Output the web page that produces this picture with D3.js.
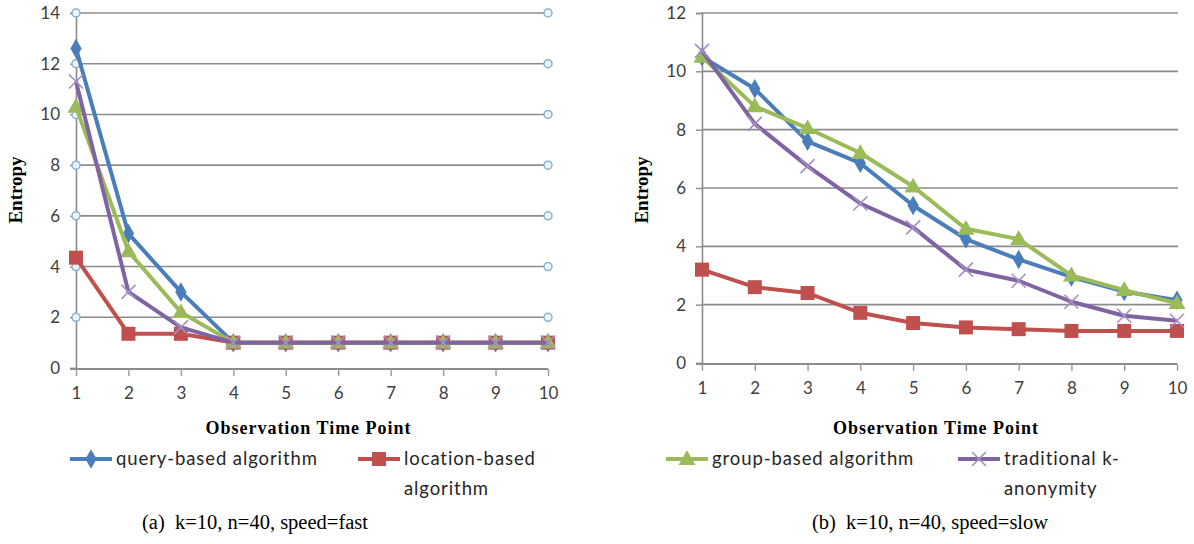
<!DOCTYPE html>
<html>
<head>
<meta charset="utf-8">
<script src="https://cdn.jsdelivr.net/npm/d3@7"></script>
<style>
  body { margin: 0; background: #fff; }
  .tick text { font-family: Lato, "Open Sans", sans-serif; font-size: 17px; fill: #404040; }
</style>
</head>
<body>
<div id="chart"></div>
<script>
// categories / ticks
var timePoints = [1, 2, 3, 4, 5, 6, 7, 8, 9, 10];
var yTicksFast = [0, 2, 4, 6, 8, 10, 12, 14];
var yTicksSlow = [0, 2, 4, 6, 8, 10, 12];
var seriesNames = ["query-based algorithm", "location-based algorithm", "group-based algorithm", "traditional k-anonymity"];

// (a) speed = fast
var fastQuery       = [12.6, 5.3, 3.0, 1.0, 1.0, 1.0, 1.0, 1.0, 1.0, 1.0];
var fastLocation    = [4.35, 1.35, 1.35, 1.0, 1.0, 1.0, 1.0, 1.0, 1.0, 1.0];
var fastGroup       = [10.3, 4.6, 2.2, 1.0, 1.0, 1.0, 1.0, 1.0, 1.0, 1.0];
var fastTraditional = [11.3, 3.0, 1.6, 1.0, 1.0, 1.0, 1.0, 1.0, 1.0, 1.0];

// (b) speed = slow
var slowQuery       = [10.5, 9.4, 7.6, 6.85, 5.4, 4.25, 3.55, 2.95, 2.45, 2.15];
var slowLocation    = [3.2, 2.6, 2.4, 1.72, 1.37, 1.22, 1.16, 1.1, 1.1, 1.1];
var slowGroup       = [10.5, 8.8, 8.05, 7.2, 6.05, 4.6, 4.25, 3.0, 2.5, 2.05];
var slowTraditional = [10.7, 8.2, 6.75, 5.47, 4.65, 3.2, 2.82, 2.1, 1.62, 1.45];

var colors = ["#4a7ebb", "#c0504d", "#9bbb59", "#8064a2"];
var markers = ["diamond", "square", "triangle", "cross"];

var svgWidth = 1194;
var svgHeight = 544;

var svg = d3.select("#chart")
  .append("svg")
  .attr("width", svgWidth)
  .attr("height", svgHeight);

function drawMarker(g, type, x, y, color) {
  if (type == "diamond") {
    g.append("path").attr("d", d3.symbol(d3.symbolDiamond, 110)())
      .attr("transform", `translate(${x},${y})`).attr("fill", color);
  } else if (type == "square") {
    g.append("rect").attr("x", x - 7).attr("y", y - 7)
      .attr("width", 14).attr("height", 14).attr("fill", color);
  } else if (type == "triangle") {
    g.append("path").attr("d", d3.symbol(d3.symbolTriangle, 125)())
      .attr("transform", `translate(${x},${y + 1})`).attr("fill", color);
  } else {
    g.append("path").attr("d", `M${x-7},${y-7}L${x+7},${y+7}M${x-7},${y+7}L${x+7},${y-7}`)
      .attr("stroke", "#a48fc4").attr("stroke-width", 1.6).attr("fill", "none");
  }
}

function drawPanel(p) {
  var x = d3.scaleLinear().domain([1, 10]).range([p.left, p.right]);
  var y = d3.scaleLinear().domain([0, d3.max(p.yTicks)]).range([p.bottom, p.top]);
  var g = svg.append("g");

  // gridlines
  g.selectAll(".grid").data(p.yTicks.filter(d => d > 0)).enter()
    .append("line")
    .attr("x1", p.left).attr("x2", p.gridEnd)
    .attr("y1", d => y(d)).attr("y2", d => y(d))
    .attr("stroke", "#8c8c8c").attr("stroke-width", 1.6);

  // y axis
  var yAxis = d3.axisLeft(y).tickValues(p.yTicks).tickSize(6).tickPadding(10);
  var yg = g.append("g").attr("transform", `translate(${p.left},0)`).call(yAxis);
  yg.select(".domain").attr("stroke", "#8c8c8c").attr("stroke-width", 1.6);
  yg.selectAll(".tick line").attr("stroke", "#8c8c8c").attr("stroke-width", 1.4);

  // x axis
  var xAxis = d3.axisBottom(x).tickValues(timePoints).tickSize(7).tickPadding(11);
  var xg = g.append("g").attr("transform", `translate(0,${y(0) + 1})`).call(xAxis);
  xg.select(".domain").attr("d", `M${p.left - 6},0H${p.right}`)
    .attr("stroke", "#8c8c8c").attr("stroke-width", 2);
  xg.selectAll(".tick line").attr("stroke", "#9a9a9a").attr("stroke-width", 1.4);

  // circles at grid ends (panel a)
  if (p.endCircles) {
    p.yTicks.filter(d => d > 0).forEach(function(v) {
      [p.left, p.right].forEach(function(cx) {
        g.append("circle").attr("cx", cx).attr("cy", y(v)).attr("r", 4)
          .attr("fill", "#eef5fa").attr("stroke", "#86b2cf").attr("stroke-width", 1.5);
      });
    });
  }

  // series
  var line = d3.line().x((d, i) => x(timePoints[i])).y(d => y(d));
  p.series.forEach(function(vals, si) {
    g.append("path").datum(vals)
      .attr("d", line)
      .attr("fill", "none")
      .attr("stroke", colors[si])
      .attr("stroke-width", 4)
      .attr("stroke-linejoin", "round");
    vals.forEach(function(v, i) {
      drawMarker(g, markers[si], x(timePoints[i]), y(v), colors[si]);
    });
  });

  // axis titles
  g.append("text")
    .attr("transform", `translate(${p.yTitleX},${p.yTitleY}) rotate(-90)`)
    .attr("text-anchor", "middle")
    .style("font-family", "'Liberation Serif', serif")
    .style("font-weight", "bold")
    .style("font-size", "19px")
    .text("Entropy");

  g.append("text")
    .attr("x", (p.left + p.right) / 2 - 4)
    .attr("y", 434)
    .attr("text-anchor", "middle")
    .style("font-family", "'Liberation Serif', serif")
    .style("font-weight", "bold")
    .style("font-size", "18px")
    .attr("textLength", 205)
    .text("Observation Time Point");

  // legend
  p.legend.forEach(function(item) {
    var lg = g.append("g");
    lg.append("line")
      .attr("x1", item.x).attr("x2", item.x + 42)
      .attr("y1", 459).attr("y2", 459)
      .attr("stroke", colors[item.s]).attr("stroke-width", 4);
    drawMarker(lg, markers[item.s], item.x + 21, 459, colors[item.s]);
    item.lines.forEach(function(t, li) {
      lg.append("text")
        .attr("x", item.x + 46)
        .attr("y", 465 + li * 30)
        .style("font-family", "Lato, 'Open Sans', sans-serif")
        .style("font-size", "18.5px")
        .style("letter-spacing", "0.9px")
        .style("fill", "#262626")
        .text(t);
    });
  });

  // caption
  g.append("text")
    .attr("x", p.captionX)
    .attr("y", 529)
    .attr("text-anchor", "middle")
    .style("font-family", "'Liberation Serif', serif")
    .style("font-size", "20.5px")
    .attr("xml:space", "preserve")
    .text(p.caption);
}

drawPanel({
  left: 76, right: 548, gridEnd: 548, top: 13, bottom: 368,
  yTicks: yTicksFast, endCircles: true,
  series: [fastQuery, fastLocation, fastGroup, fastTraditional],
  yTitleX: 22, yTitleY: 190,
  legend: [
    { s: 0, x: 70, lines: ["query-based algorithm"] },
    { s: 1, x: 358, lines: ["location-based", "algorithm"] }
  ],
  captionX: 255, caption: "(a)  k=10, n=40, speed=fast"
});

drawPanel({
  left: 702, right: 1177, gridEnd: 1178, top: 13, bottom: 363,
  yTicks: yTicksSlow, endCircles: false,
  series: [slowQuery, slowLocation, slowGroup, slowTraditional],
  yTitleX: 648, yTitleY: 190,
  legend: [
    { s: 2, x: 666, lines: ["group-based algorithm"] },
    { s: 3, x: 958, lines: ["traditional k-", "anonymity"] }
  ],
  captionX: 930, caption: "(b)  k=10, n=40, speed=slow"
});
</script>
</body>
</html>
